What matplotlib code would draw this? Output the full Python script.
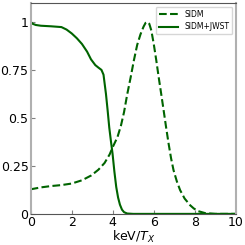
import matplotlib.pyplot as plt

# SIDM (dashed)
x_sidm = [0, 0.5, 1.0, 1.5, 2.0, 2.5, 2.95, 3.3, 3.6, 3.85, 4.0, 4.23, 4.4, 4.55, 4.7, 4.87, 5.03, 5.19, 5.35,
          5.5, 5.6, 5.68, 5.78, 5.88, 6.0, 6.12, 6.24, 6.36, 6.48, 6.6, 6.72, 6.84, 6.96, 7.12, 7.28, 7.5, 7.77,
          7.95, 8.17, 8.5, 9.0, 10]
y_sidm = [0.128, 0.138, 0.145, 0.15, 0.158, 0.175, 0.2, 0.23, 0.265, 0.31, 0.348, 0.4, 0.46, 0.53, 0.62, 0.71,
          0.8, 0.88, 0.935, 0.975, 0.995, 1.0, 0.99, 0.955, 0.883, 0.8, 0.71, 0.625, 0.538, 0.45, 0.366, 0.29,
          0.228, 0.17, 0.124, 0.08, 0.045, 0.028, 0.014, 0.004, 0.0, 0.0]

# SIDM+JWST (solid)
x_jwst = [0, 0.1, 0.25, 0.5, 1.0, 1.5, 1.75, 2.0, 2.25, 2.5, 2.75, 2.94, 3.15, 3.3, 3.45, 3.55, 3.67, 3.75, 3.83,
          3.91, 3.99, 4.08, 4.17, 4.26, 4.35, 4.45, 4.55, 4.7, 5.0, 6.0, 10]
y_jwst = [1.0, 0.99, 0.984, 0.98, 0.977, 0.973, 0.96, 0.94, 0.915, 0.885, 0.845, 0.805, 0.775, 0.762, 0.75, 0.725,
          0.624, 0.54, 0.45, 0.38, 0.314, 0.22, 0.14, 0.085, 0.048, 0.022, 0.009, 0.002, 0.0, 0.0, 0.0]

col = '#006400'

fig = plt.figure(figsize=(2.45, 2.45), dpi=100)
ax = fig.add_axes([0.125, 0.127, 0.838, 0.862])
ax.plot(x_sidm, y_sidm, '--', color=col, lw=1.5, label='SIDM')
ax.plot(x_jwst, y_jwst, '-', color=col, lw=1.5, label='SIDM+JWST')

ax.set_xlim(0, 10)
ax.set_ylim(0, 1.1)
ax.set_xticks([0, 2, 4, 6, 8, 10])
ax.set_yticks([0, 0.25, 0.5, 0.75, 1])
ax.set_yticklabels(['0', '0.25', '0.5', '0.75', '1'])
ax.tick_params(direction='in', labelsize=9, length=3, color='gray', pad=1.5)
ax.spines['top'].set_color('#555555')
ax.spines['bottom'].set_color('#555555')
ax.spines['left'].set_color('#b0b0b0')
ax.spines['right'].set_color('#b0b0b0')
ax.spines['left'].set_linewidth(1.5)
ax.spines['right'].set_linewidth(1.5)
ax.set_xlabel('keV/$T_X$', fontsize=9, labelpad=0)
ax.legend(loc='upper right', fontsize=5.5, frameon=True, handlelength=2.5)

fig.savefig('out.png', dpi=100)
